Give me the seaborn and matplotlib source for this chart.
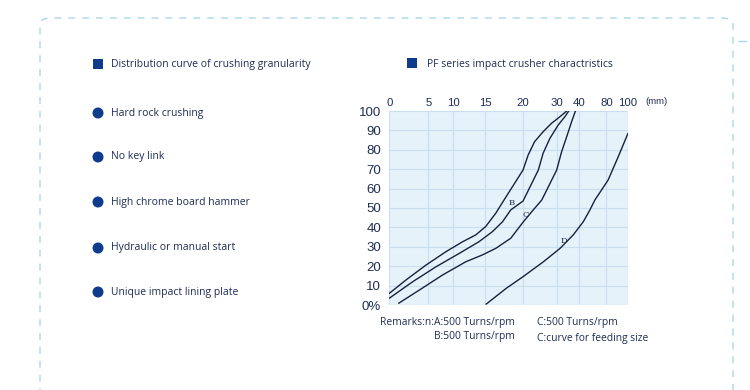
import numpy as np
import pandas as pd
import matplotlib
matplotlib.use("Agg")
import matplotlib.pyplot as plt
from matplotlib.patches import FancyBboxPatch, Rectangle, Ellipse
import seaborn as sns

# ---------------- data ----------------
size_ticks = [0, 5, 10, 15, 20, 30, 40, 80, 100]          # mm (top axis)
size_tick_labels = ["0", "5", "10", "15", "20", "30", "40", "80", "100"]
pct_ticks = [0, 10, 20, 30, 40, 50, 60, 70, 80, 90, 100]
pct_tick_labels = ["0%", "10", "20", "30", "40", "50", "60", "70", "80", "90", "100"]

curve_A_mm = [0, 2.14, 4.71, 8.54, 11.45, 13.5, 15.04, 16.4, 17.5, 20.1, 21.6, 23.5,
              26.0, 28.5, 31.5, 34.5]
curve_A_pct = [6.0, 12.9, 20.6, 27.5, 32.6, 36.1, 40.4, 47.3, 54.1, 69.6, 77.3, 84.2,
               89.3, 93.7, 97.1, 100]
curve_B_mm = [0, 3.0, 6.54, 10.93, 14.0, 15.95, 17.3, 18.4, 20.1, 24.6, 26.0, 28.0,
              30.7, 33.7, 35.4]
curve_B_pct = [3.5, 12.0, 19.7, 26.6, 32.6, 37.8, 42.9, 49.0, 53.6, 69.6, 78.2, 85.9,
               92.8, 97.1, 100]
curve_C_mm = [1.2, 3.85, 7.88, 11.96, 14.54, 16.4, 18.4, 20.2, 23.1, 25.6, 30.0, 32.2,
              34.5, 36.7, 38.4]
curve_C_pct = [0.9, 7.7, 15.5, 22.3, 25.8, 29.2, 34.4, 42.9, 49.0, 54.1, 69.6, 79.0,
               86.8, 94.5, 100]
curve_D_mm = [15.1, 17.8, 20.1, 26.1, 31.5, 37.4, 46.2, 55.9, 63.1, 81.5, 90.9, 100]
curve_D_pct = [0.4, 8.6, 14.6, 22.3, 29.2, 36.1, 42.9, 49.0, 54.1, 64.4, 76.4, 88.5]

curve_labels = ["B", "C", "D"]
curve_label_mm = [18.5, 21.0, 33.3]
curve_label_pct = [52.4, 46.4, 33.0]

left_items = ["Distribution curve of crushing granularity", "Hard rock crushing",
              "No key link", "High chrome board hammer",
              "Hydraulic or manual start", "Unique impact lining plate"]
right_title = "PF series impact crusher charactristics"
remarks = ["Remarks:n:A:500 Turns/rpm", "B:500 Turns/rpm",
           "C:500 Turns/rpm", "C:curve for feeding size"]

# ---------------- build long table ----------------
frames = []
for name, xs, ys in [("A", curve_A_mm, curve_A_pct), ("B", curve_B_mm, curve_B_pct),
                     ("C", curve_C_mm, curve_C_pct), ("D", curve_D_mm, curve_D_pct)]:
    frames.append(pd.DataFrame({"size": xs, "passing": ys, "curve": name}))
df = pd.concat(frames, ignore_index=True)

# ---------------- figure ----------------
sns.set_theme(style="white")
plt.rcParams["font.family"] = ["Open Sans", "DejaVu Sans"]

W, H = 750, 390
fig = plt.figure(figsize=(W / 100, H / 100), dpi=100)
fig.patch.set_facecolor("white")

NAVY = "#1f2d55"
MARK = "#0e3b8c"
CURVE = "#17213d"

# dashed rounded border
border = FancyBboxPatch((40 / W, 1 - 500 / H), (733 - 40) / W, (500 - 18) / H,
                        boxstyle="round,pad=0,rounding_size=0.015",
                        transform=fig.transFigure, fill=False,
                        edgecolor="#a9d7ea", linewidth=1.0, linestyle=(0, (5, 5)))
fig.add_artist(border)
fig.add_artist(plt.Line2D([738 / W, 746 / W], [1 - 41 / H, 1 - 41 / H],
                          transform=fig.transFigure, color="#a9d7ea", lw=1))

# left list
rows_y = [64, 113, 157, 202, 248, 292]
for i, (txt, yy) in enumerate(zip(left_items, rows_y)):
    if i == 0:
        fig.add_artist(Rectangle((93 / W, 1 - (yy + 5) / H), 10 / W, 10 / H,
                                 transform=fig.transFigure, color=MARK, lw=0))
    else:
        fig.add_artist(Ellipse((98 / W, 1 - yy / H), 11 / W, 11 / H,
                               transform=fig.transFigure, color=MARK, lw=0))
    fig.text(111 / W, 1 - yy / H, txt, fontsize=7.5, color=NAVY, va="center", ha="left")

fig.add_artist(Rectangle((407 / W, 1 - 68 / H), 10 / W, 10 / H,
                         transform=fig.transFigure, color=MARK, lw=0))
fig.text(427 / W, 1 - 64 / H, right_title, fontsize=7.5, color=NAVY, va="center", ha="left")

# axes
ax = fig.add_axes([389.3 / W, 1 - 305 / H, (628 - 389.3) / W, (305 - 111) / H])
ax.set_facecolor("#e6f2fa")

tick_pos = [0, 0.1634, 0.2681, 0.4022, 0.5589, 0.7013, 0.7947, 0.9099, 1.0]
fwd = lambda v: np.interp(v, size_ticks, tick_pos)
inv = lambda p: np.interp(p, tick_pos, size_ticks)
ax.set_xscale("function", functions=(fwd, inv))

sns.lineplot(data=df, x="size", y="passing", hue="curve", units="curve",
             estimator=None, sort=False, legend=False,
             palette={k: CURVE for k in "ABCD"}, linewidth=1.0, ax=ax)
for ln in ax.lines:
    ln.set_solid_joinstyle("round")

ax.set_xlim(0, 100)
ax.set_ylim(0, 100)
ax.set_xticks(size_ticks)
ax.set_xticklabels(size_tick_labels)
ax.set_yticks(pct_ticks)
ax.set_yticklabels(pct_tick_labels)
ax.xaxis.tick_top()
ax.tick_params(axis="x", length=0, pad=2.5, labelsize=8.2, labelcolor=NAVY)
ax.tick_params(axis="y", length=0, pad=6, labelsize=9.5, labelcolor=NAVY)
for lab in ax.get_yticklabels() + ax.get_xticklabels():
    lab.set_fontfamily(["Liberation Sans", "DejaVu Sans"])
ax.set_xlabel("")
ax.set_ylabel("")
ax.grid(True, color="#c9dff0", linewidth=0.8)
for s in ax.spines.values():
    s.set_visible(False)

for lab, xm, yp in zip(curve_labels, curve_label_mm, curve_label_pct):
    ax.text(xm, yp, lab, fontsize=6, color=CURVE, family="DejaVu Serif",
            ha="center", va="center")

fig.text(645 / W, 1 - 101 / H, "(mm)", fontsize=6.8, color=NAVY, ha="left", va="center",
         family=["Liberation Sans", "DejaVu Sans"])

# remarks
fig.text(380 / W, 1 - 323 / H, remarks[0], fontsize=7.4, color=NAVY, ha="left", va="center")
fig.text(515 / W, 1 - 337 / H, remarks[1], fontsize=7.4, color=NAVY, ha="right", va="center")
fig.text(537 / W, 1 - 323 / H, remarks[2], fontsize=7.4, color=NAVY, ha="left", va="center")
fig.text(537 / W, 1 - 339 / H, remarks[3], fontsize=7.4, color=NAVY, ha="left", va="center")

fig.savefig("out.png", dpi=100, facecolor="white")
